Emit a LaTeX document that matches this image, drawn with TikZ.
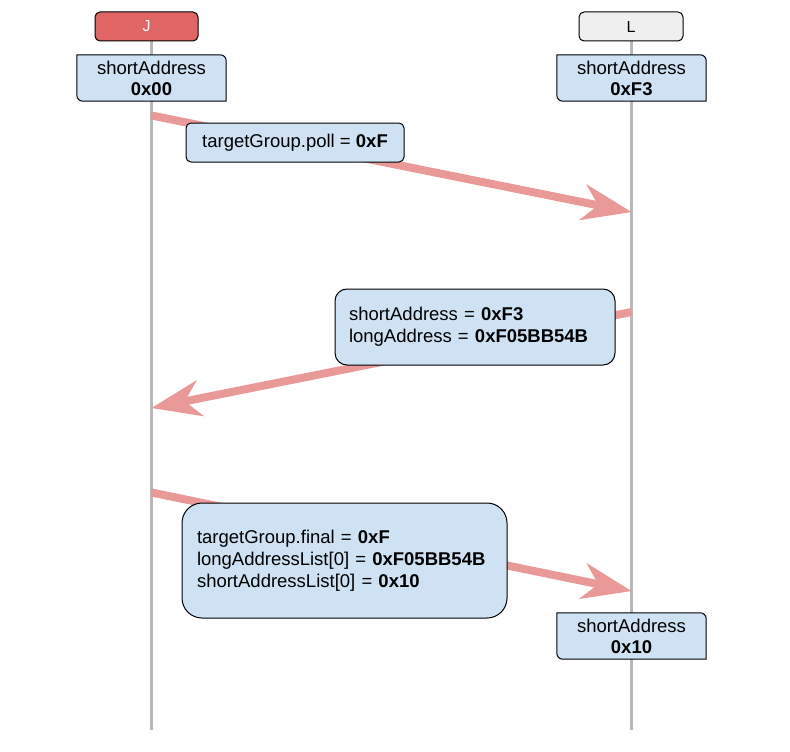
\documentclass[tikz,border=0pt]{standalone}
\usepackage{fontspec}
\setmainfont{Liberation Sans}
\usetikzlibrary{arrows.meta,backgrounds}
\definecolor{jred}{HTML}{E06666}
\definecolor{lgray}{HTML}{EFEFEF}
\definecolor{boxblue}{HTML}{CFE2F3}
\definecolor{arrowred}{HTML}{EA9999}
\definecolor{lifegray}{HTML}{B7B7B7}

\begin{document}
\begin{tikzpicture}[x=1pt,y=-1pt,
  head/.style={draw,line width=1pt,rounded corners=5pt,minimum width=103pt,minimum height=29pt,
    inner sep=0pt,font=\fontsize{16}{18}\selectfont},
  addrbox/.style={minimum width=149pt,minimum height=46pt,inner sep=0pt,align=center,
    font=\fontsize{18.5}{21}\selectfont},
  addrframe/.style={draw,fill=boxblue,line width=1pt},
  lifeline/.style={draw=lifegray,line width=3pt},
  msg/.style={draw=arrowred,line width=8pt,
    -{Stealth[length=50pt,width=37pt,inset=16pt,line width=0pt]}},
  note/.style={draw,fill=boxblue,line width=1pt,inner sep=0pt,
    font=\fontsize{18.5}{22}\selectfont}]
  \useasboundingbox (0,0) rectangle (790,752);
  \node[head,fill=jred,text=white] (jhead) at (146.5,26.5) {J};
  \node[head,fill=lgray,minimum width=104pt] (lhead) at (631,26.5) {L};
  \coordinate (jend) at (151.5,730);
  \coordinate (lend) at (631.5,730);
  \begin{scope}[on background layer]
    \draw[lifeline] (jhead.south -| jend) -- (jend);
    \draw[lifeline] (lhead.south -| lend) -- (lend);
  \end{scope}
  \node[addrbox] (jaddr) at (151.5,78) {shortAddress\\\textbf{0x00}};
  \node[addrbox] (laddr) at (631.5,78) {shortAddress\\\textbf{0xF3}};
  \node[addrbox] (lnew) at (631.5,636) {shortAddress\\\textbf{0x10}};
  \begin{scope}[on background layer]
    \foreach \n in {jaddr,laddr,lnew}
      \draw[addrframe] (\n.west) -- (\n.north west) [rounded corners=6pt] -- (\n.north east)
        [sharp corners] -- (\n.south east) [rounded corners=6pt] -- (\n.south west)
        [sharp corners] -- cycle;
  \end{scope}
  \coordinate (poll1) at (jend |- 0,115.5);
  \coordinate (poll2) at (lend |- 0,212);
  \draw[msg] (poll1) -- (poll2);
  \node[note,rounded corners=5pt,minimum width=218pt,minimum height=39pt] (poll) at (295,142.5)
       {targetGroup.poll = \textbf{0xF}};
  \coordinate (rep1) at (lend |- 0,312);
  \coordinate (rep2) at (jend |- 0,408);
  \draw[msg] (rep1) -- (rep2);
  \node[note,rounded corners=12pt,text width=252pt,inner xsep=14pt,minimum height=76pt,align=left]
       (reply) at (475,327)
       {shortAddress = \textbf{0xF3}\\longAddress = \textbf{0xF05BB54B}};
  \coordinate (fin1) at (jend |- 0,492.5);
  \coordinate (fin2) at (lend |- 0,591);
  \draw[msg] (fin1) -- (fin2);
  \node[note,rounded corners=20pt,text width=295pt,inner xsep=15pt,minimum height=115pt,align=left]
       (final) at (344.5,560.5)
       {targetGroup.final = \textbf{0xF}\\longAddressList[0] = \textbf{0xF05BB54B}\\
        shortAddressList[0] = \textbf{0x10}};
\end{tikzpicture}
\end{document}
